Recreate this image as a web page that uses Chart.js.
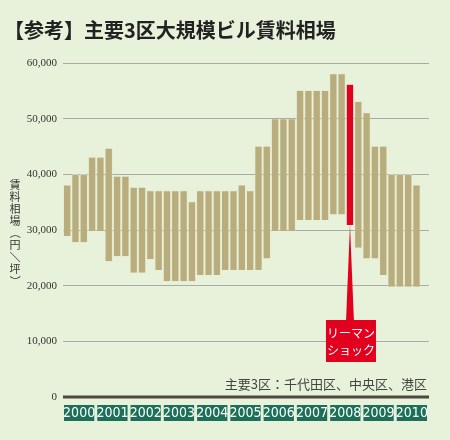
<!DOCTYPE html>
<html><head><meta charset="utf-8">
<script src="https://cdn.jsdelivr.net/npm/chart.js@4"></script>
<style>
body{margin:0;background:#e8f1d9;}
#wrap{position:relative;width:450px;height:440px;}
</style></head>
<body><div id="wrap"><canvas id="c" width="450" height="440"></canvas></div>
<script>
const years = ['2000','2001','2002','2003','2004','2005','2006','2007','2008','2009','2010']
// quarterly high / low (円/坪), 2000Q1 .. 2010Q3
const highs = [38100,40000,40000,43100, 43100,44700,39700,39700, 37700,37700,37100,37100,
  37100,37100,37100,35100, 37100,37100,37100,37100, 37100,38100,37100,45100,
  45100,50000,50000,50000, 55100,55100,55100,55100, 58100,58100,56200,53100,
  51100,45100,45100,40000, 40000,40000,38100]
const lows = [28900,27800,27800,29800, 29800,24400,25300,25300, 22300,22300,24800,22800,
  20800,20800,20800,20800, 21900,21900,21900,22800, 22800,22800,22800,22800,
  24900,29800,29800,29800, 31800,31800,31800,31800, 32800,32800,30900,26800,
  24900,24900,21900,19800, 19800,19800,19800]
const yTicks = [0,10000,20000,30000,40000,50000,60000]
const shockIndex = 34

const labels = []
years.forEach(y => { for (let q = 1; q <= 4; q++) labels.push(y + 'Q' + q) })
const ranges = labels.map((l, i) => i < highs.length ? [lows[i], highs[i]] : null)
const colors = labels.map((l, i) => i === shockIndex ? '#e2001f' : '#b9ad7d')

const decor = {
  id: 'decor',
  afterDraw(chart) {
    const ctx = chart.ctx, a = chart.chartArea, x = chart.scales.x, y = chart.scales.y
    ctx.save()
    // title
    ctx.fillStyle = '#222'
    ctx.font = 'bold 20px "Noto Sans CJK JP"'
    ctx.textBaseline = 'middle'
    ctx.fillText('【参考】主要3区大規模ビル賃料相場', 4, 30)
    // y title
    ctx.font = '11px "Noto Sans CJK JP"'
    ctx.fillStyle = '#333'
    const yt = '賃料相場（円／坪）'
    let ty = 180
    for (const ch of yt) {
      if ('（）／'.includes(ch)) {
        ctx.save(); ctx.translate(15, ty + 5); ctx.rotate(Math.PI / 2)
        ctx.textAlign = 'center'; ctx.fillText(ch, 0, 0); ctx.restore()
      } else {
        ctx.textAlign = 'center'; ctx.fillText(ch, 15, ty + 5)
      }
      ty += 12
    }
    // zero line
    ctx.strokeStyle = '#4a4a40'; ctx.lineWidth = 3
    ctx.beginPath(); ctx.moveTo(a.left, y.getPixelForValue(0)); ctx.lineTo(a.right, y.getPixelForValue(0)); ctx.stroke()
    // note
    ctx.fillStyle = '#444'; ctx.textAlign = 'right'
    ctx.font = '13px "Noto Sans CJK JP"'
    ctx.fillText('主要3区：千代田区、中央区、港区', a.right - 2, 384)
    // year boxes
    const w = (a.right - a.left) / years.length
    ctx.font = '14px "Liberation Sans Narrow", "DejaVu Sans Condensed", sans-serif'
    ctx.textAlign = 'center'
    years.forEach((yr, i) => {
      const bx = a.left + i * w + 1
      ctx.fillStyle = '#1c6f58'; ctx.fillRect(bx, 405, w - 3, 16)
      ctx.fillStyle = '#fff'; ctx.fillText(yr, bx + (w - 3) / 2, 413.5)
    })
    // Lehman shock callout
    const sx = x.getPixelForValue(shockIndex), sb = y.getPixelForValue(lows[shockIndex])
    ctx.fillStyle = '#e2001f'
    ctx.beginPath(); ctx.moveTo(sx, sb); ctx.lineTo(sx + 4, 322); ctx.lineTo(sx - 4, 322); ctx.closePath(); ctx.fill()
    ctx.fillRect(sx - 24, 320, 50, 42)
    ctx.fillStyle = '#fff'; ctx.font = '12px "Noto Sans CJK JP"'
    ctx.fillText('リーマン', sx + 1, 333)
    ctx.fillText('ショック', sx + 1, 350)
    ctx.restore()
  }
}

new Chart(document.getElementById('c'), {
  type: 'bar',
  data: {
    labels: labels,
    datasets: [{ data: ranges, backgroundColor: colors, borderColor: '#e4e8cf', borderWidth: 0.7,
      categoryPercentage: 1, barPercentage: 0.93 }]
  },
  options: {
    responsive: false, animation: false,
    layout: { padding: { top: 63, bottom: 43, right: 21, left: 0 } },
    plugins: { legend: { display: false }, tooltip: { enabled: false } },
    scales: {
      x: { display: false },
      y: {
        min: 0, max: 60000,
        afterFit(s) { s.width = 63 },
        afterBuildTicks(s) { s.ticks = yTicks.map(v => ({ value: v })) },
        border: { display: false },
        grid: { color: '#aaa', tickLength: 4, drawTicks: false, lineWidth: v => v.tick.value === 0 ? 0 : 1 },
        ticks: { color: '#333', font: { size: 11, family: 'Liberation Sans Narrow' }, padding: 6,
          callback: v => v.toLocaleString('en-US') }
      }
    }
  },
  plugins: [decor]
})
// dashed grid
Chart.defaults.borderDash = []
</script></body></html>
